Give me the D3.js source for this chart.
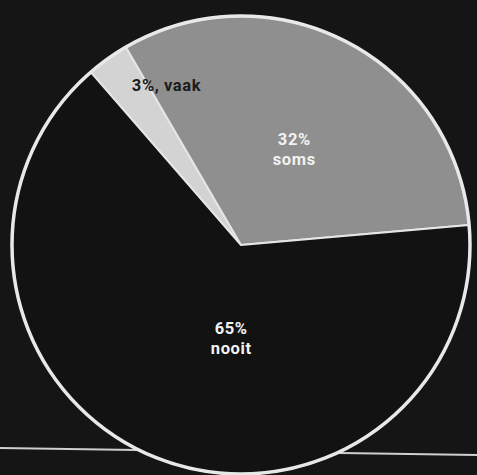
<!DOCTYPE html>
<html>
<head>
<meta charset="utf-8">
<script src="https://cdn.jsdelivr.net/npm/d3@7"></script>
<style>
  html, body { margin: 0; padding: 0; background: #151515; }
  svg { display: block; }
  .label { font-family: Roboto, "Open Sans", sans-serif; font-weight: 700; font-size: 16.5px; letter-spacing: 0.6px; }
</style>
</head>
<body>
<div class="wrapper"></div>
<script>
// chart data
var categories = ["vaak", "soms", "nooit"];
var values = [3, 32, 65];
var sliceColors = ["#d3d3d3", "#8f8f8f", "#121212"];
var labelColors = ["#1c1c1c", "#f2f2f2", "#f2f2f2"];
// label placement: polar (degrees from top, radius factor of pie radius)
var labelAngles = [-25, 29, 186];
var labelRadii = [0.77, 0.48, 0.41];

var ultimatew = 477,
  ultimateh = 475,
  cx = 241,
  cy = 245,
  radius = 229,
  lineGap = 20;

var svg = d3
  .select(".wrapper")
  .append("svg")
  .attr("width", ultimatew)
  .attr("height", ultimateh);

// ground line behind the pie
svg
  .append("line")
  .attr("x1", 0)
  .attr("y1", 448)
  .attr("x2", ultimatew)
  .attr("y2", 455)
  .attr("stroke", "#cfcfcf")
  .attr("stroke-width", 2);

var g = svg.append("g").attr("transform", "translate(" + cx + "," + cy + ")");

var startA = (-41 * Math.PI) / 180;
var pie = d3
  .pie()
  .sort(null)
  .startAngle(startA)
  .endAngle(startA + 2 * Math.PI);

var arc = d3.arc().innerRadius(0).outerRadius(radius);

var arcs = pie(values);

g.selectAll("path.slice")
  .data(arcs)
  .enter()
  .append("path")
  .attr("class", "slice")
  .attr("d", arc)
  .attr("fill", function(d, i) {
    return sliceColors[i];
  })
  .attr("stroke", "#e6e6e6")
  .attr("stroke-width", 2)
  .attr("stroke-linejoin", "round");

// outer rim
g.append("circle")
  .attr("r", radius)
  .attr("fill", "none")
  .attr("stroke", "#e8e8e8")
  .attr("stroke-width", 3.5);

// labels
function labelPos(i) {
  var a = (labelAngles[i] * Math.PI) / 180,
    r = labelRadii[i] * radius;
  return [r * Math.sin(a), -r * Math.cos(a)];
}

arcs.forEach(function(d, i) {
  var p = labelPos(i);
  var lines = i === 0 ? [values[i] + "%, " + categories[i]] : [values[i] + "%", categories[i]];
  var y0 = p[1] - ((lines.length - 1) * lineGap) / 2;
  lines.forEach(function(txt, k) {
    g.append("text")
      .attr("class", "label")
      .attr("text-anchor", "middle")
      .attr("fill", labelColors[i])
      .attr("x", p[0])
      .attr("y", y0 + k * lineGap)
      .attr("dy", "0.35em")
      .text(txt);
  });
});
</script>
</body>
</html>
